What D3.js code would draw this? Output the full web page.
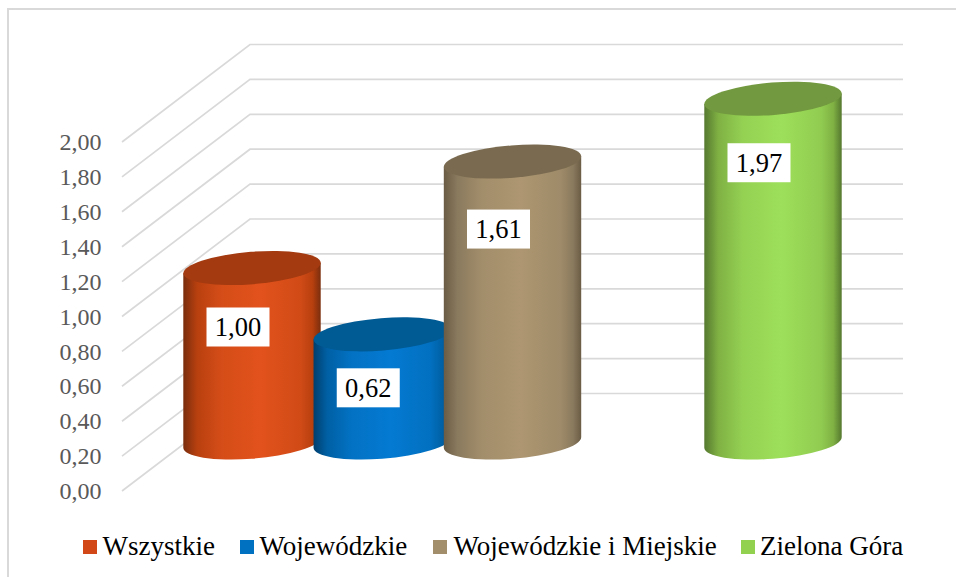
<!DOCTYPE html>
<html><head><meta charset="utf-8">
<script src="https://d3js.org/d3.v7.min.js"></script>
<style>html,body{margin:0;padding:0;background:#fff}svg{display:block}text{font-family:"Liberation Serif",serif}</style>
</head><body><div id="c"></div>
<script>
const categories = ["Wszystkie","Wojewódzkie","Wojewódzkie i Miejskie","Zielona Góra"];
const slots = ["Wszystkie","Wojewódzkie","Wojewódzkie i Miejskie","","Zielona Góra"];
const values = [1.00,0.62,1.61,1.97];
const valueLabels = ["1,00","0,62","1,61","1,97"];
const tickValues = [0,0.2,0.4,0.6,0.8,1,1.2,1.4,1.6,1.8,2];
const tickLabels = ["0,00","0,20","0,40","0,60","0,80","1,00","1,20","1,40","1,60","1,80","2,00"];
const legendColors = ["#D34817","#0070C0","#A28E6A","#92D050"];
const topColors = ["#A33A10","#005A94","#7A6B50","#72993F"];
const edgeColors = ["#7A2D0D","#003F6E","#6A5C45","#55782F"];
const sideColors = ["#B8400F","#0060A4","#8A7A5E","#7FB043"];
const midColors = ["#E2521C","#047AD2","#AD9671","#9DDF5A"];

const W=956,H=577;
const svg=d3.select("#c").append("svg").attr("width",W).attr("height",H);
const defs=svg.append("defs");
svg.append("path").attr("d",`M8,${H} V9 H${W}`).attr("fill","none").attr("stroke","#d9d9d9").attr("stroke-width",2);

const yFront=d3.scaleLinear().domain([0,2]).range([491,142]);
const depthX=128, depthY=97.5, frontX=122, backRight=903;
const grid=svg.append("g");
grid.selectAll("path").data(tickValues).join("path")
 .attr("d",v=>{const y=yFront(v);return `M${frontX},${y} L${frontX+depthX},${y-depthY} H${backRight}`;})
 .attr("fill","none").attr("stroke","#d9d9d9").attr("stroke-width",1.7);

const axis=d3.axisLeft(yFront).tickValues(tickValues).tickSize(0).tickPadding(0)
  .tickFormat((d,i)=>tickLabels[i]);
const ag=svg.append("g").attr("transform","translate(101.5,0)").call(axis);
ag.select(".domain").remove();
ag.selectAll("text").attr("font-size",24).attr("fill","#595959").attr("font-family","Liberation Serif");

const x=d3.scalePoint().domain(slots).range([252,773]);
const yBar=d3.scaleLinear().domain([0,2]).range([442.5,93.5]);
const a=68.9,b=16.2,rot=-4.6,hw=68.7,ty=5.2;

categories.forEach((c,i)=>{
  const g=defs.append("linearGradient").attr("id","g"+i);
  [[0,edgeColors[i]],[0.1,sideColors[i]],[0.28,d3.interpolateRgb(sideColors[i],midColors[i])(0.7)],[0.56,midColors[i]],[0.85,d3.interpolateRgb(sideColors[i],midColors[i])(0.6)],[0.94,sideColors[i]],[1,edgeColors[i]]]
   .forEach(s=>g.append("stop").attr("offset",s[0]).attr("stop-color",s[1]));
});
const bars=svg.selectAll("g.bar").data(categories).join("g").attr("class","bar");
bars.append("path").attr("fill",(d,i)=>`url(#g${i})`)
 .attr("d",(d,i)=>{
   const cx=x(d), top=yBar(values[i]), base=yBar(0);
   return `M${cx-hw},${top+ty} L${cx-hw},${base+ty} A${a},${b} ${rot} 0 0 ${cx+hw},${base-ty} L${cx+hw},${top-ty} Z`;
 });
bars.append("ellipse").attr("rx",a).attr("ry",b).attr("fill",(d,i)=>topColors[i])
 .attr("transform",(d,i)=>`translate(${x(d)},${yBar(values[i])}) rotate(${rot})`);

// data labels (manually dragged in the original, so each has its own offset from the bar top)
const labelDy=[59,53.5,67.5,64];
const lab=svg.selectAll("g.lab").data(categories).join("g").attr("class","lab")
 .attr("transform",(d,i)=>`translate(${x(d)-14},${yBar(values[i])+labelDy[i]})`);
lab.append("rect").attr("x",-31.5).attr("y",-19.5).attr("width",63).attr("height",39).attr("fill","#fff");
lab.append("text").text((d,i)=>valueLabels[i]).attr("text-anchor","middle").attr("y",9).attr("font-size",26.5).attr("fill","#000");

// legend
const legendX=[83,240,433,741], textX=[102.5,259.5,453.5,760];
const leg=svg.selectAll("g.leg").data(categories).join("g").attr("class","leg");
leg.append("rect").attr("x",(d,i)=>legendX[i]).attr("y",540).attr("width",14).attr("height",14).attr("fill",(d,i)=>legendColors[i]);
leg.append("text").text(d=>d).attr("x",(d,i)=>textX[i]).attr("y",555).attr("font-size",27).attr("fill","#000");
</script></body></html>
